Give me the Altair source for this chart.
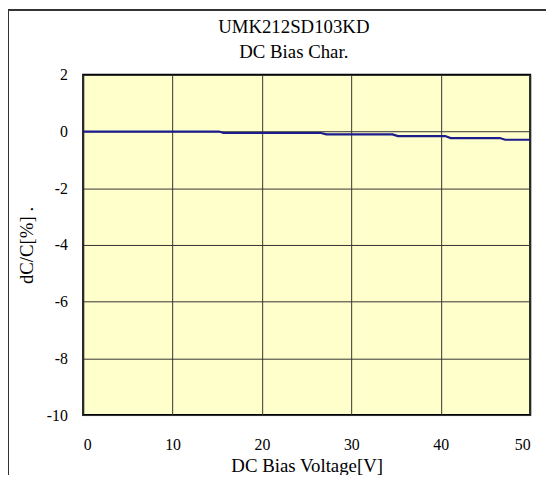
import altair as alt
import pandas as pd

# DC bias characteristic (step-like readout)
voltage = [0, 15.2, 15.7, 26.6, 27.2, 34.6, 35.2, 40.5, 41.1, 46.6, 47.2, 50]
dcc = [0, 0, -0.05, -0.05, -0.1, -0.1, -0.16, -0.16, -0.23, -0.23, -0.29, -0.29]
x_ticks = [0, 10, 20, 30, 40, 50]
y_ticks = [2, 0, -2, -4, -6, -8, -10]
title_lines = ["UMK212SD103KD", "DC Bias Char."]

df = pd.DataFrame({"V": voltage, "dC": dcc})

FONT = "Liberation Serif"
W, H = 452, 344

line = alt.Chart(df).mark_line(color="#1c1c8c", strokeWidth=2.2, clip=True).encode(
    x=alt.X("V:Q", scale=alt.Scale(domain=[0, 50], nice=False),
            axis=alt.Axis(values=x_ticks, title="DC Bias Voltage[V]", grid=True,
                          ticks=False, tickSize=0, domain=False, labelPadding=22,
                          titlePadding=4, labelExpr="'' + datum.value")),
    y=alt.Y("dC:Q", scale=alt.Scale(domain=[-10, 2], nice=False),
            axis=alt.Axis(values=y_ticks, title="dC/C[%] .", grid=True,
                          ticks=False, tickSize=0, domain=False, labelPadding=16,
                          titlePadding=10, labelExpr="'' + datum.value")),
    order="V:Q",
)

frame_top = alt.Chart(df).mark_rule(color="#333333", strokeWidth=1.2).encode(
    x=alt.value(-76), x2=alt.value(W + 20), y=alt.value(-66)
)
frame_left = alt.Chart(df).mark_rule(color="#333333", strokeWidth=1.2).encode(
    x=alt.value(-76), y=alt.value(-66), y2=alt.value(H + 70)
)

t1 = alt.Chart(pd.DataFrame({"t": [title_lines[0]]})).mark_text(
    font=FONT, fontSize=19, color="black", align="center", baseline="middle"
).encode(text="t:N", x=alt.value(213), y=alt.value(-48))
t2 = alt.Chart(pd.DataFrame({"t": [title_lines[1]]})).mark_text(
    font=FONT, fontSize=19, color="black", align="center", baseline="middle"
).encode(text="t:N", x=alt.value(213), y=alt.value(-23))

chart = alt.layer(frame_top, frame_left, line, t1, t2).properties(
    width=W,
    height=H,
    background="white",
    autosize=alt.AutoSizeParams(type="none"),
    padding={"left": 76, "top": 65, "right": 16, "bottom": 58},
).configure_view(
    fill="#FFFFCC", stroke="black", strokeWidth=2
).configure_axis(
    labelFont=FONT, labelFontSize=16, labelColor="black",
    titleFont=FONT, titleFontSize=19, titleFontWeight="normal", titleColor="black",
    gridColor="#333333", gridWidth=1, gridOpacity=1,
)

chart.save("out.html", embed_options={"renderer": "svg", "actions": False})
